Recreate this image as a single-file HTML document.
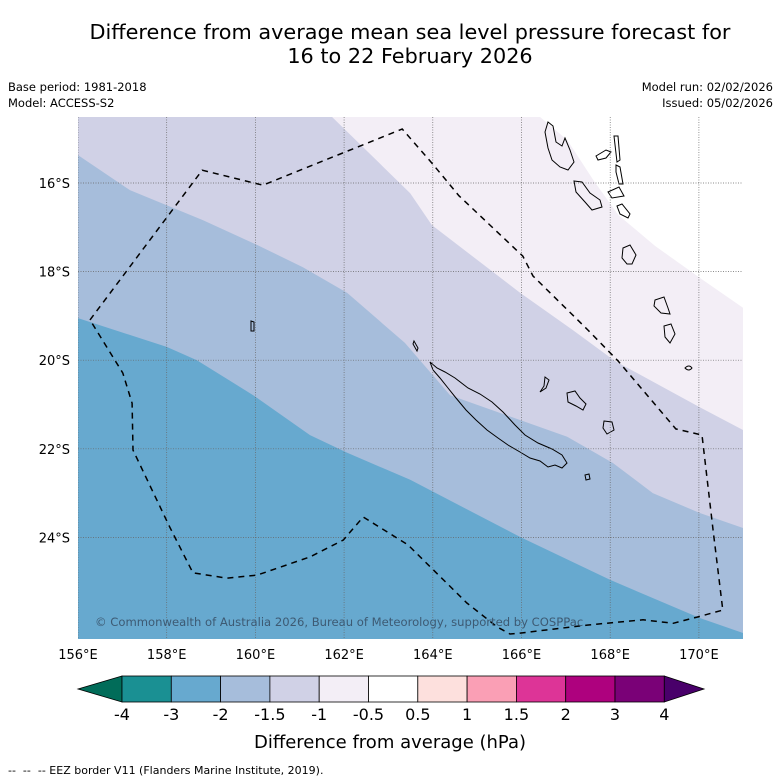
<!DOCTYPE html>
<html><head><meta charset="utf-8"><style>
html,body{margin:0;padding:0;background:#fff;}
svg{display:block;font-family:"DejaVu Sans","Liberation Sans",sans-serif;}
</style></head><body>
<svg id="chart" width="781" height="781" viewBox="0 0 781 781" xmlns="http://www.w3.org/2000/svg">
<text x="410" y="39" font-size="20.8" text-anchor="middle">Difference from average mean sea level pressure forecast for</text>
<text x="410" y="63" font-size="20.8" text-anchor="middle">16 to 22 February 2026</text>
<text x="8" y="91" font-size="11.5">Base period: 1981-2018</text>
<text x="8" y="107" font-size="11.5">Model: ACCESS-S2</text>
<text x="773" y="91" font-size="11.5" text-anchor="end">Model run: 02/02/2026</text>
<text x="773" y="107" font-size="11.5" text-anchor="end">Issued: 05/02/2026</text>
<defs><clipPath id="mapclip"><rect x="78" y="117" width="665" height="522"/></clipPath></defs>
<g id="map" clip-path="url(#mapclip)"></g>
<g id="axes"></g>
<g id="cbar"></g>
<text x="390" y="748" font-size="18" text-anchor="middle">Difference from average (hPa)</text>
<text x="8" y="774" font-size="11">-- &#160;-- &#160;-- EEZ border V11 (Flanders Marine Institute, 2019).</text>
</svg>
<script>
const NS="http://www.w3.org/2000/svg";
const lonTicks=[156,158,160,162,164,166,168,170];
const latTicks=[-16,-18,-20,-22,-24];
const cbLevels=["-4","-3","-2","-1.5","-1","-0.5","0.5","1","1.5","2","3","4"];
const cbColors=["#1a9093","#67a9cf","#a6bddb","#d0d1e6","#f3eef6","#ffffff","#fde0dd","#fa9fb5","#dd3497","#ae017e","#7a0177"];
const cbExtendColors=["#016c59","#49006a"];
const contourA_lon=[156,158.0,158.68,159.95,161.23,162.07,163.49,165.97,168.0,170.02,171.0];
const contourA_lat=[-19.05,-19.70,-20.0,-20.79,-21.69,-22.09,-22.70,-23.99,-24.96,-25.82,-26.16];
const contourB_lon=[156,157.17,158.0,158.82,160.04,161.07,162.07,163.37,164.39,167.03,168.06,168.96,170.02,171.0];
const contourB_lat=[-15.37,-16.16,-16.50,-16.84,-17.40,-17.90,-18.48,-19.61,-20.79,-21.73,-22.32,-23.0,-23.45,-23.79];
const contourC_lon=[161.73,163.49,163.98,165.97,167.16,168.11,170.02,171.0];
const contourC_lat=[-14.51,-16.23,-16.95,-18.48,-19.32,-20.02,-21.06,-21.58];
const contourD_lon=[166.42,167.03,167.63,168.18,169.01,170.09,171.0];
const contourD_lat=[-14.51,-15.03,-15.95,-16.72,-17.42,-18.19,-18.82];
const eez_lon=[156.27,158.80,160.17,163.31,163.98,164.59,166.03,166.26,167.50,168.18,169.48,170.07,170.32,170.54,169.96,169.42,168.74,167.48,165.97,165.74,165.45,164.77,163.44,162.43,161.98,161.23,160.04,159.36,158.59,158.07,157.24,157.22,157.01];
const eez_lat=[-19.09,-15.71,-16.05,-14.78,-15.55,-16.29,-17.65,-18.10,-19.32,-20.02,-21.55,-21.69,-23.84,-25.64,-25.80,-25.94,-25.86,-25.98,-26.16,-26.18,-26.02,-25.48,-24.17,-23.54,-24.06,-24.44,-24.85,-24.92,-24.80,-23.77,-22.03,-20.97,-20.29];

const X=lon=>78+(lon-156)*44.35;
const Y=lat=>183+(-lat-16)*44.3;
const map=document.getElementById('map');
const axes=document.getElementById('axes');
const cbar=document.getElementById('cbar');
function mk(tag,attrs,parent){const e=document.createElementNS(NS,tag);for(const k in attrs)e.setAttribute(k,attrs[k]);parent.appendChild(e);return e;}
function pts(lons,lats){return lons.map((l,i)=>X(l).toFixed(1)+','+Y(lats[i]).toFixed(1)).join(' ');}

let bg=mk('rect',{x:78,y:117,width:665,height:522,fill:cbColors[1]},map);


const TL=X(156)+','+Y(-14.0), TR=X(171.5)+','+Y(-14.0);
let pa=mk('polygon',{points:pts(contourA_lon,contourA_lat)+' '+TR+' '+TL,fill:cbColors[2]},map);


let pb=mk('polygon',{points:pts(contourB_lon,contourB_lat)+' '+TR+' '+TL,fill:cbColors[3]},map);


let pc=mk('polygon',{points:pts(contourC_lon,contourC_lat)+' '+TR+' '+X(161.73)+','+Y(-14.0),fill:cbColors[4]},map);


let pd=mk('polygon',{points:pts(contourD_lon,contourD_lat)+' '+TR+' '+X(166.42)+','+Y(-14.0),fill:cbColors[5]},map);



const coast=["M430,362 L437,368 445,372 455,378 468,388 480,394 492,402 503,412 515,425 525,435 538,443 552,449 562,455 567,463 562,468 555,465 548,467 540,461 530,458 520,452 508,445 498,438 487,430 476,420 466,410 456,398 448,388 440,378 433,370 Z",
"M414,341 L418,348 417,351 413,344 Z","M545,377 L549,380 546,388 540,392 544,386 Z","M567,393 L575,391 580,398 586,404 583,410 576,406 568,402 Z",
"M604,421 L612,422 614,430 607,434 603,428 Z","M585,475 L589,474 590,479 586,480 Z",
"M548,122 L553,126 556,142 562,146 565,138 570,150 574,162 568,170 560,167 552,160 548,148 545,132 Z",
"M574,181 L582,182 590,193 600,200 602,207 592,210 585,202 576,192 Z","M596,156 L606,150 611,152 606,158 598,160 Z",
"M614,136 L618,136 620,160 617,162 Z","M616,165 L620,167 623,184 619,184 616,172 Z","M608,192 L619,187 624,196 612,198 Z",
"M617,206 L622,204 630,214 628,218 620,214 Z","M623,248 L630,245 636,255 632,264 627,264 622,258 Z",
"M655,300 L664,297 668,308 670,314 661,313 654,306 Z","M664,326 L671,324 675,334 670,343 665,337 Z","M685,368 Q689,364 692,368 Q689,372 685,368 Z",
"M251,321 L254,322 254,331 251,331 Z"];
coast.forEach(d=>{let c=mk('path',{d:d,fill:'none',stroke:'#000','stroke-width':1},map);

});

lonTicks.forEach(l=>{let g=mk('line',{x1:X(l),x2:X(l),y1:117,y2:639,stroke:'#666','stroke-width':0.7,'stroke-dasharray':'1,1.5'},map);

});
latTicks.forEach(l=>{let g=mk('line',{x1:78,x2:743,y1:Y(l),y2:Y(l),stroke:'#666','stroke-width':0.7,'stroke-dasharray':'1,1.5'},map);

});

let eez=mk('polygon',{points:pts(eez_lon,eez_lat),fill:'none',stroke:'#000','stroke-width':1.5,'stroke-dasharray':'6,5'},map);



let cp=mk('text',{x:95,y:626,'font-size':11.6,fill:'#3d5a73'},map);
cp.textContent='© Commonwealth of Australia 2026, Bureau of Meteorology, supported by COSPPac';



lonTicks.forEach(l=>{let t=mk('text',{x:X(l),y:659,'font-size':13,'text-anchor':'middle'},axes);t.textContent=l+'°E';

});
latTicks.forEach(l=>{let t=mk('text',{x:70,y:Y(l)+5,'font-size':13,'text-anchor':'end'},axes);t.textContent=(-l)+'°S';

});

const cbX0=122,cbW=49.3,cbY=676,cbH=26;
let lt=mk('polygon',{points:`${cbX0},${cbY} 78,${cbY+cbH/2} ${cbX0},${cbY+cbH}`,fill:cbExtendColors[0],stroke:'#000','stroke-width':0.8},cbar);


cbColors.forEach((c,i)=>{let r=mk('rect',{x:cbX0+i*cbW,y:cbY,width:cbW,height:cbH,fill:c,stroke:'#000','stroke-width':0.8},cbar);

});
const cbX1=cbX0+cbColors.length*cbW;
let rt=mk('polygon',{points:`${cbX1},${cbY} 704,${cbY+cbH/2} ${cbX1},${cbY+cbH}`,fill:cbExtendColors[1],stroke:'#000','stroke-width':0.8},cbar);


cbLevels.forEach((v,i)=>{let t=mk('text',{x:cbX0+i*cbW,y:720,'font-size':16,'text-anchor':'middle'},cbar);t.textContent=v;

});
</script>
</body></html>
